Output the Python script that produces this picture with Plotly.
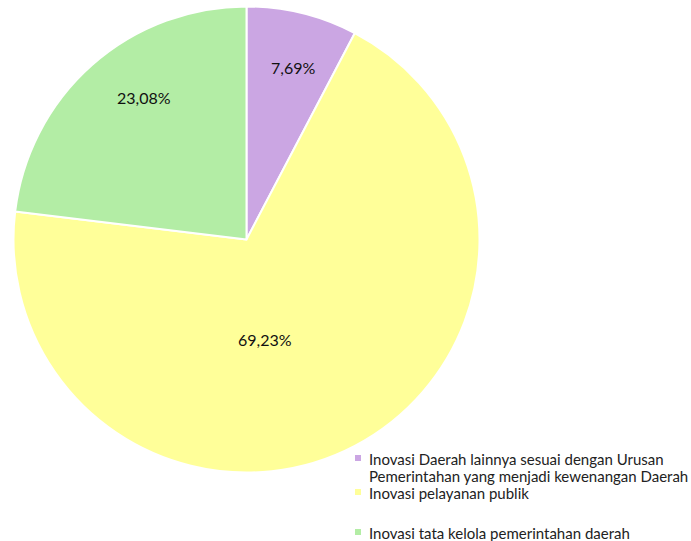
import textwrap
import plotly.graph_objects as go

# Share of regional innovation types (percent of total)
categories = [
    "Inovasi Daerah lainnya sesuai dengan Urusan Pemerintahan yang menjadi kewenangan Daerah",
    "Inovasi pelayanan publik",
    "Inovasi tata kelola pemerintahan daerah",
]
shares = [7.69, 69.23, 23.08]
colors = ["#CBA6E3", "#FFFF99", "#B3EDA5"]

W, H = 691, 541
FONT = "Lato"

# pie placement in pixels
cx, cy, r = 246.5, 239.5, 233


def px(x):
    return x / W


def py(y):
    return 1 - y / H


fig = go.Figure(
    go.Pie(
        labels=categories,
        values=shares,
        sort=False,
        direction="clockwise",
        rotation=0,
        marker=dict(colors=colors, line=dict(color="white", width=2)),
        textinfo="none",
        hoverinfo="label+percent",
        showlegend=False,
        domain=dict(x=[px(cx - r), px(cx + r)], y=[py(cy + r), py(cy - r)]),
    )
)

# percentage labels inside the slices
label_pos = [(293, 67), (265, 339), (144, 97.5)]
total = sum(shares)
annotations = []
for share, (lx, ly) in zip(shares, label_pos):
    txt = f"{share / total * 100:.2f}%".replace(".", ",")
    annotations.append(
        dict(
            x=px(lx), y=py(ly), xref="paper", yref="paper",
            text=txt, showarrow=False, xanchor="center", yanchor="middle",
            font=dict(family=FONT, size=16, color="#111111"),
        )
    )

# legend: colour key plus wrapped category names
legend_top = [459, 493, 533]
line_step = 17
shapes = []
for cat, col, y0 in zip(categories, colors, legend_top):
    for i, line in enumerate(textwrap.wrap(cat, 43)):
        annotations.append(
            dict(
                x=px(367), y=py(y0 + i * line_step), xref="paper", yref="paper",
                text=line, showarrow=False, xanchor="left", yanchor="middle",
                font=dict(family=FONT, size=15, color="#222222"),
            )
        )
    shapes.append(
        dict(
            type="rect", xref="paper", yref="paper",
            x0=px(355), x1=px(361), y0=py(y0 + 2), y1=py(y0 - 4),
            fillcolor=col, line=dict(width=0),
        )
    )

fig.update_layout(
    width=W,
    height=H,
    margin=dict(l=0, r=0, t=0, b=0),
    paper_bgcolor="white",
    plot_bgcolor="white",
    annotations=annotations,
    shapes=shapes,
)

fig.write_html("out.html")
